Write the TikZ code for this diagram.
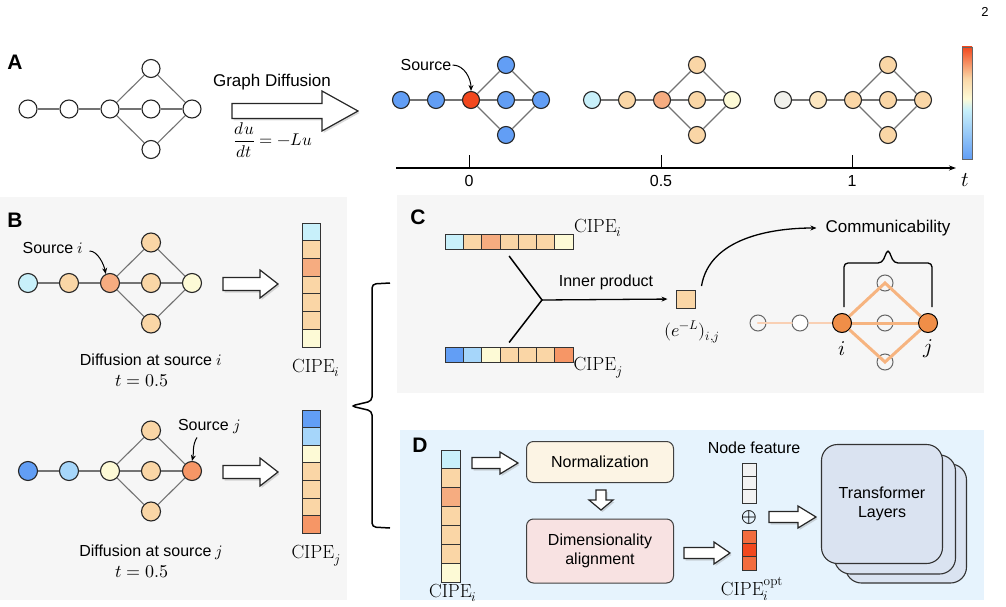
\documentclass[tikz,border=0pt]{standalone}
\usepackage{unicode-math}
\setmathfont{Latin Modern Math}
\newfontfamily\arial{Liberation Sans}
\usetikzlibrary{arrows.meta,shadows,positioning}

\definecolor{cblue}{RGB}{98,158,245}
\definecolor{clblue}{RGB}{166,214,250}
\definecolor{ccyan}{RGB}{200,240,250}
\definecolor{cyellow}{RGB}{253,250,214}
\definecolor{cwhite}{RGB}{240,240,235}
\definecolor{clpeach}{RGB}{252,230,192}
\definecolor{cpeach}{RGB}{250,214,166}
\definecolor{corange}{RGB}{246,172,128}
\definecolor{csrcj}{RGB}{246,150,102}
\definecolor{cred}{RGB}{242,72,30}
\definecolor{copt}{RGB}{242,108,62}
\definecolor{cnode}{RGB}{240,142,72}
\definecolor{cedge}{RGB}{246,180,128}
\definecolor{cfaint}{RGB}{249,208,180}
\definecolor{cnorm}{RGB}{252,244,228}
\definecolor{cdim}{RGB}{248,226,226}
\definecolor{ctf}{RGB}{218,227,241}
\definecolor{cgray}{RGB}{242,242,242}
\definecolor{panelgray}{RGB}{246,246,246}
\definecolor{panelblue}{RGB}{230,243,253}

\pgfdeclareverticalshading{cbarshade}{100bp}{color(0bp)=(cblue); color(25bp)=(cblue); color(47bp)=(ccyan); color(52bp)=(cyellow); color(61bp)=(cpeach); color(75bp)=(cred); color(100bp)=(cred)}

\tikzset{
  gnode/.style={circle, draw=black!85, line width=1.1pt, inner sep=0pt, minimum size=18pt},
  gedge/.style={draw=black!55, line width=1.1pt},
  cell/.style={rectangle, draw=black!80, line width=0.8pt, inner sep=0pt, outer sep=0pt},
  lbl/.style={font=\arial\fontsize{16}{19}\selectfont, inner sep=1pt},
  mlbl/.style={font=\fontsize{19}{22}\selectfont, inner sep=1pt},
  panel/.style={font=\arial\bfseries\fontsize{21}{24}\selectfont},
  ptr/.style={-{Stealth[length=6pt,width=5pt]}, line width=1pt},
  fatarr/.style={fill=white, draw=black!85, line width=1.2pt, drop shadow={opacity=0.3, shadow xshift=1.5pt, shadow yshift=-2pt}},
  bracket/.style={line width=1.5pt, rounded corners=4pt},
  hollow/.style={circle, draw=black!60, line width=1pt, inner sep=0pt, minimum size=16pt},
  endpt/.style={circle, draw=black, fill=cnode, line width=1pt, inner sep=0pt, minimum size=19pt},
  box/.style={rectangle, rounded corners=7pt, draw=black!75, line width=1pt, font=\arial\fontsize{16}{19}\selectfont},
  tfbox/.style={rectangle, rounded corners=16pt, draw=black!80, fill=ctf, line width=1.1pt, minimum width=121pt, minimum height=119pt, font=\arial\fontsize{16}{19}\selectfont}
}

% graph of 7 nodes: name, scope options, colours of the 7 nodes
\newcommand{\diffgraph}[9]{%
  \begin{scope}[#2]
    \foreach \cc/\gx/\gy [count=\k] in {#3/0/0,#4/1/0,#5/2/0,#6/3/0,#7/4/0,#8/3/1,#9/3/-1}
      \node[gnode, fill=\cc] (#1-\k) at (\gx,\gy) {};
    \foreach \a/\b in {1/2,2/3,3/4,4/5,3/6,6/5,3/7,7/5}
      \draw[gedge] (#1-\a) -- (#1-\b);
  \end{scope}}
% column and row of coloured cells
\newcommand{\vcells}[6]{%
  \foreach \cc [count=\k] in {#6}
    \node[cell, minimum width=#4pt, minimum height=#5pt, fill=\cc] (#1-\k) at (#2,{#3+(\k-1)*#5}) {};}
\newcommand{\hcells}[6]{%
  \foreach \cc [count=\k] in {#6}
    \node[cell, minimum width=#4pt, minimum height=#5pt, fill=\cc] (#1-\k) at ({#2+(\k-1)*#4},#3) {};}
% white block arrows
\newcommand{\fatarrow}[6]{%
  \draw[fatarr] (#1,{#3-#4}) -- ({#2-#6},{#3-#4}) -- ({#2-#6},{#3-#5}) -- (#2,#3) -- ({#2-#6},{#3+#5}) -- ({#2-#6},{#3+#4}) -- (#1,{#3+#4}) -- cycle;}
\newcommand{\fatdown}[6]{%
  \draw[fatarr] ({#1-#4},#2) -- ({#1-#4},{#3-#6}) -- ({#1-#5},{#3-#6}) -- (#1,#3) -- ({#1+#5},{#3-#6}) -- ({#1+#4},{#3-#6}) -- ({#1+#4},#2) -- cycle;}

\begin{document}
\begin{tikzpicture}[x=1pt, y=-1pt]
  \useasboundingbox (0,0) rectangle (1006,607);
  \fill[panelgray] (0,197) rectangle (347,600);
  \fill[panelgray] (397,195) rectangle (984,393);
  \fill[panelblue] (400,430) rectangle (984,600);
  \node[font=\arial\fontsize{13}{15}\selectfont] (pgnum) at (985,12) {2};

  % A
  \node[panel] (labA) at (15,62) {A};
  \diffgraph{a0}{shift={(28,109)}, x=41pt, y=40.5pt}{white}{white}{white}{white}{white}{white}{white}
  \fatarrow{232}{358}{111}{7.5}{20}{36}
  \node[lbl, font=\arial\fontsize{17}{20}\selectfont] (gdiff) at (272,82) {Graph Diffusion};
  \node[font=\fontsize{17}{20}\selectfont] (eq) at (273,140) {$\displaystyle\frac{du}{dt}=-Lu$};
  \diffgraph{a1}{shift={(401,100)}, x=35pt, y=35pt, gnode/.append style={minimum size=17pt}}{cblue}{cblue}{cred}{cblue}{cblue}{cblue}{cblue}
  \diffgraph{a2}{shift={(592,100)}, x=35pt, y=35pt, gnode/.append style={minimum size=17pt}}{ccyan}{cpeach}{corange}{cpeach}{cyellow}{cpeach}{cpeach}
  \diffgraph{a3}{shift={(783,100)}, x=35pt, y=35pt, gnode/.append style={minimum size=17pt}}{cwhite}{clpeach}{cpeach}{cpeach}{cpeach}{cpeach}{cpeach}
  \node[lbl] (srcA) at (426,65) {Source};
  \draw[ptr] (srcA.east) .. controls +(12,0) and +(0,-12) .. (a1-3.north);
  \coordinate (t0) at (396,168);
  \coordinate (t1) at (956,168);
  \draw[-{Stealth[length=7pt,width=5pt]}, line width=1.1pt] (t0) -- (t1);
  \foreach \tx/\tl [count=\k] in {469/0, 661/0.5, 852/1} {
    \draw[line width=1pt] (\tx,155) -- (\tx,168);
    \node[lbl] (tick\k) at (\tx,181) {\tl};
  }
  \node[font=\fontsize{21}{24}\selectfont] (tlab) at (965,180) {$t$};
  \shade[shading=cbarshade, draw=black!60, line width=0.8pt] (962,47) rectangle (972,159);

  % B
  \node[panel] (labB) at (15,220) {B};
  \diffgraph{b1}{shift={(28,283)}, x=41pt, y=40.5pt, gnode/.append style={minimum size=19pt}}{ccyan}{cpeach}{corange}{cpeach}{cyellow}{cpeach}{cpeach}
  \node[lbl] (srci) at (53,248) {Source $i$};
  \draw[ptr] ([xshift=5pt,yshift=-3pt]srci.east) .. controls +(8,0) and +(-2,-10) .. (b1-3.115);
  \fatarrow{223}{278}{284}{6.5}{14}{18}
  \vcells{vi}{311}{231.9}{18}{17.7}{ccyan,cpeach,corange,cpeach,cpeach,cpeach,cyellow}
  \node[mlbl] (cipei) at (316,368) {$\mathrm{CIPE}_i$};
  \node[lbl] (diffi) at (151,360) {Diffusion at source $i$};
  \node[font=\fontsize{18}{20}\selectfont] (ti) at (142,381) {$t=0.5$};

  \diffgraph{b2}{shift={(28,471)}, x=41pt, y=40.5pt, gnode/.append style={minimum size=19pt}}{cblue}{clblue}{cyellow}{cpeach}{csrcj}{cpeach}{cpeach}
  \node[lbl] (srcj) at (209,427) {Source $j$};
  \draw[ptr] ([xshift=-12pt,yshift=-2pt]srcj.south) .. controls +(-5,8) and +(2,-8) .. (b2-5.north);
  \fatarrow{223}{278}{472}{6.5}{14}{18}
  \vcells{vj}{311}{418.8}{18}{17.6}{cblue,clblue,cyellow,cpeach,cpeach,cpeach,csrcj}
  \node[mlbl] (cipej) at (316,556) {$\mathrm{CIPE}_j$};
  \node[lbl] (diffj) at (151,552) {Diffusion at source $j$};
  \node[font=\fontsize{18}{20}\selectfont] (tj) at (142,572) {$t=0.5$};

  \draw[bracket] (390,283) -- (372,284) -- (372,401) -- (351,406) -- (372,411) -- (372,527) -- (390,528);

  % C
  \node[panel] (labC) at (418,217) {C};
  \hcells{hi}{454.2}{241.5}{18.3}{15}{ccyan,cpeach,corange,cpeach,cpeach,cpeach,cyellow}
  \node[mlbl] (cipeci) at (598,228) {$\mathrm{CIPE}_i$};
  \hcells{hj}{454.2}{355}{18.3}{15}{cblue,clblue,cyellow,cpeach,cpeach,cpeach,csrcj}
  \node[mlbl] (cipecj) at (598,368) {$\mathrm{CIPE}_j$};
  \coordinate (junc) at (542,300);
  \draw[line width=1.5pt] ([yshift=-7pt]hi-4.south) -- (junc) -- ([yshift=5pt]hj-4.north);
  \node[cell, fill=cpeach, minimum width=19pt, minimum height=18pt] (sq) at (686,299) {};
  \draw[ptr, line width=1.3pt, shorten >=9pt] (junc) -- (sq.west);
  \node[lbl] (inner) at (606,282) {Inner product};
  \node[font=\fontsize{18}{20}\selectfont] (eij) at (692,332) {$(e^{-L})_{i,j}$};
  \node[lbl, font=\arial\fontsize{17}{20}\selectfont] (comm) at (888,228) {Communicability};
  \draw[ptr, line width=1.3pt] ([xshift=6pt,yshift=4pt]sq.north east) .. controls +(8,-48) and +(-45,0) .. ([xshift=-8pt]comm.west);
  \node[hollow] (c1) at (758,323) {};
  \node[hollow, fill=white] (c2) at (800,323) {};
  \node[hollow] (cm) at (885,323) {};
  \node[hollow] (ct) at (885,283) {};
  \node[hollow] (cb) at (885,362) {};
  \node[endpt] (ci) at (842,323) {};
  \node[endpt] (cj) at (928,323) {};
  \draw[cfaint, line width=2.5pt, line cap=round] (c1.center) -- (c2);
  \draw[cfaint, line width=2.5pt] (c2) -- (ci);
  \draw[cedge, line width=3pt] (ci) -- (ct.center) -- (cj);
  \draw[cedge, line width=3pt] (ci) -- (cb.center) -- (cj);
  \draw[cedge, line width=3pt] (ci) -- (cj);
  \node[font=\fontsize{21}{24}\selectfont] (li) at (842,349) {$i$};
  \node[font=\fontsize{21}{24}\selectfont] (lj) at (928,349) {$j$};
  \draw[bracket, line width=1.3pt] (844,307) -- (844,263) -- (882,263) -- (888,249) -- (894,263) -- (932,263) -- (932,307);

  % D
  \node[panel] (labD) at (420,445) {D};
  \vcells{di}{450.5}{459.4}{19}{18.9}{ccyan,cpeach,corange,cpeach,cpeach,cpeach,cyellow}
  \node[mlbl] (cipedi) at (453,593) {$\mathrm{CIPE}_i$};
  \fatarrow{472}{518}{463}{5.5}{11}{18}
  \node[box, fill=cnorm, minimum width=147pt, minimum height=41pt] (norm) at (600,462) {Normalization};
  \fatdown{601}{490}{510}{5}{12}{10}
  \node[box, fill=cdim, minimum width=147pt, minimum height=64pt, align=center] (dim) at (600,551) {Dimensionality\\alignment};
  \fatarrow{684}{730}{553}{5.5}{11}{16}
  \node[lbl] (nf) at (754,448) {Node feature};
  \vcells{nfv}{749}{469.7}{14}{13.3}{cgray,cgray,cgray}
  \node[font=\fontsize{20}{22}\selectfont] (plus) at (749,517) {$\oplus$};
  \vcells{opt}{749}{536.7}{14}{13.3}{copt,cred,copt}
  \node[mlbl] (cipeopt) at (752,589) {$\mathrm{CIPE}_i^{\mathrm{opt}}$};
  \fatarrow{769}{816}{517}{5.5}{11}{18}
  \node[tfbox] (tf3) at (906,523.5) {};
  \node[tfbox] (tf2) at (895,514.5) {};
  \node[tfbox, align=center] (tf1) at (882,504) {Transformer\\Layers};
\end{tikzpicture}
\end{document}
